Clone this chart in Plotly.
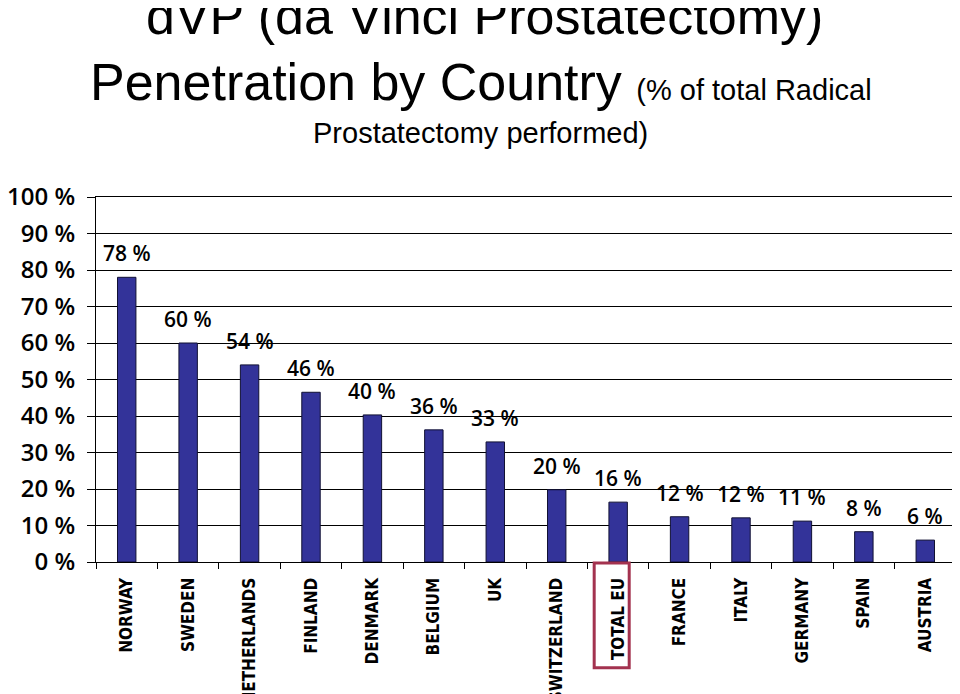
import plotly.graph_objects as go

countries = ["NORWAY", "SWEDEN", "NETHERLANDS", "FINLAND", "DENMARK", "BELGIUM", "UK",
             "SWITZERLAND", "TOTAL EU", "FRANCE", "ITALY", "GERMANY", "SPAIN", "AUSTRIA"]
values = [78, 60, 54, 46.5, 40.3, 36.2, 32.9, 19.8, 16.4, 12.4, 12.1, 11.2, 8.3, 6.0]
labels = ["78 %", "60 %", "54 %", "46 %", "40 %", "36 %", "33 %",
          "20 %", "16 %", "12 %", "12 %", "11 %", "8 %", "6 %"]
y_ticks = [0, 10, 20, 30, 40, 50, 60, 70, 80, 90, 100]
y_tick_text = [f"{v} %" for v in y_ticks]
highlight = "TOTAL EU"

FONT = "Open Sans"
XFONT = "Liberation Sans Narrow, DejaVu Sans Condensed, Open Sans"

fig = go.Figure()
fig.add_trace(go.Bar(
    x=countries, y=values,
    marker=dict(color="#333399", line=dict(color="#111133", width=1)),
    width=0.3,
    hoverinfo="x+y",
))

for c, v, t in zip(countries, values, labels):
    fig.add_annotation(x=c, y=v, text=t, showarrow=False, xanchor="center",
                       yanchor="bottom", yshift=8,
                       font=dict(family=FONT, size=21, color="black", weight=600))

# highlight box around TOTAL EU tick label
idx = countries.index(highlight)
fig.add_shape(type="rect", xref="x", yref="paper", x0=idx - 0.39, x1=idx + 0.18,
              y0=-0.29, y1=-0.003, line=dict(color="#A3324F", width=3))

fig.add_annotation(xref="paper", yref="paper", x=0.452, y=1.497, text="dVP (da Vinci Prostatectomy)",
                   showarrow=False, xanchor="center", yanchor="middle",
                   font=dict(family="Liberation Sans", size=52, color="black"))
fig.add_annotation(xref="paper", yref="paper", x=0.448, y=1.316,
                   text="Penetration by Country <span style='font-size:29px'>(% of total Radical</span>",
                   showarrow=False, xanchor="center", yanchor="middle",
                   font=dict(family="Liberation Sans", size=52, color="black"))
fig.add_annotation(xref="paper", yref="paper", x=0.447, y=1.175, text="Prostatectomy performed)",
                   showarrow=False, xanchor="center", yanchor="middle",
                   font=dict(family="Liberation Sans", size=29, color="black"))

fig.update_layout(
    width=960, height=694,
    margin=dict(l=88, r=12, t=189, b=140),
    paper_bgcolor="white", plot_bgcolor="white",
    showlegend=False,
    xaxis=dict(type="category", showline=True, linecolor="black", linewidth=1, mirror=True,
               ticks="outside", tickson="boundaries", ticklen=6, tickcolor="black",
               tickangle=-90, ticklabelstandoff=8, showgrid=False, automargin=False,
               tickfont=dict(family=XFONT, size=17, color="black", weight="bold")),
    yaxis=dict(range=[0, 100], tickvals=y_ticks, ticktext=y_tick_text,
               showline=True, linecolor="black", linewidth=1, mirror=True,
               ticks="outside", ticklen=8, tickcolor="black",
               showgrid=True, gridcolor="black", gridwidth=1, zeroline=False,
               ticklabelstandoff=7, automargin=False,
               tickfont=dict(family=FONT, size=24, color="black", weight=600)),
)

fig.write_html("out.html")
